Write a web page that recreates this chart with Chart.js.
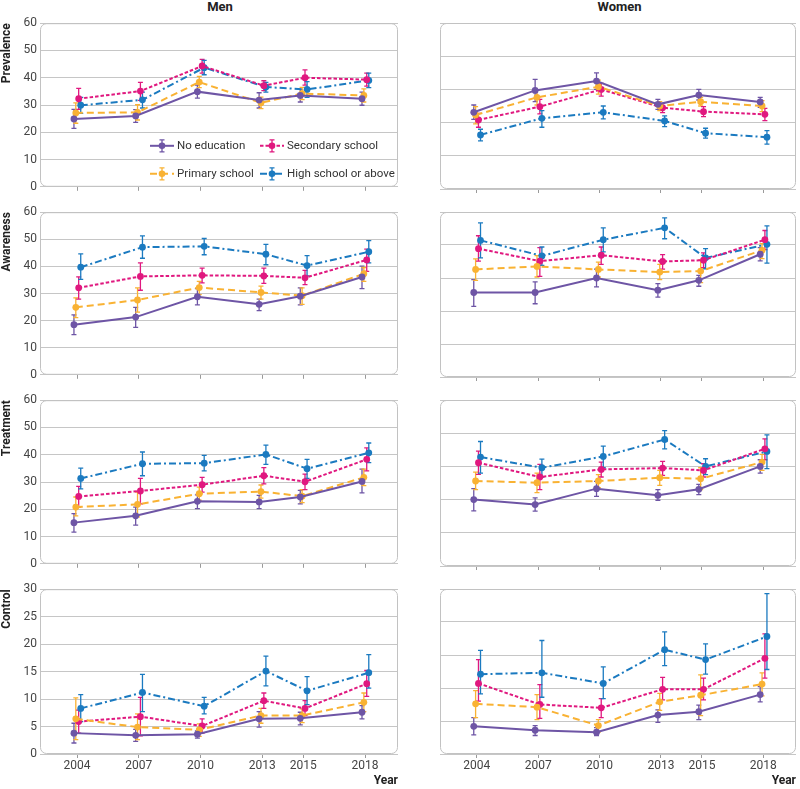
<!DOCTYPE html>
<html><head><meta charset="utf-8">
<script src="https://cdn.jsdelivr.net/npm/chart.js@4.4.0/dist/chart.umd.min.js"></script>
<style>
html,body{margin:0;padding:0;background:#fff;width:800px;height:789px;overflow:hidden;position:relative;font-family:Roboto,"Open Sans",sans-serif;}
canvas{position:absolute;}
.coltitle{position:absolute;top:0;font-weight:bold;font-size:13px;color:#222;text-align:center;line-height:14px;}
</style></head><body>
<div class="coltitle" style="left:40px;width:360px;">Men</div>
<div class="coltitle" style="left:440px;width:359px;">Women</div>
<script>
// ---------- data ----------
const years = [2004, 2007, 2010, 2013, 2015, 2018];
const seriesNames = ['No education', 'Primary school', 'Secondary school', 'High school or above'];
const yTicksMain = [0, 10, 20, 30, 40, 50, 60];
const yTicksControl = [0, 5, 10, 15, 20, 25, 30];
const rowTitles = ['Prevalence', 'Awareness', 'Treatment', 'Control'];
// series order in each array: No education, Primary, Secondary, High school or above
const menPrevalenceEst = [[24.9,26.0,34.9,31.8,33.5,32.3],[27.1,27.3,38.4,30.8,34.2,33.5],[32.3,35.1,44.3,37.1,40.0,39.3],[29.9,31.9,43.7,36.6,35.7,39.0]];
const menPrevalenceLo  = [[21.4,23.6,32.5,28.9,31.1,29.9],[23.3,24.5,36.4,28.7,32.0,31.1],[28.4,31.7,41.7,35.3,37.3,36.9],[26.9,28.9,41.1,34.7,32.8,36.4]];
const menPrevalenceHi  = [[28.4,28.3,37.3,34.5,35.7,34.7],[30.8,30.1,40.5,32.9,36.5,35.9],[36.1,38.3,46.7,38.9,42.9,41.7],[32.8,34.7,46.4,38.3,38.6,41.7]];
const menAwarenessEst = [[18.5,21.3,28.8,26.0,29.0,36.1],[24.9,27.6,32.2,30.4,29.2,37.3],[32.1,36.3,36.7,36.5,35.8,42.4],[39.7,47.1,47.4,44.5,40.3,45.4]];
const menAwarenessLo  = [[14.8,17.5,25.8,23.7,25.8,31.8],[21.1,23.1,29.6,27.9,26.0,34.5],[27.9,31.2,33.9,33.7,33.3,38.2],[35.2,43.0,44.3,40.6,36.5,41.3]];
const menAwarenessHi  = [[22.1,24.9,31.8,27.9,32.1,40.1],[28.4,32.1,34.5,32.7,32.1,39.6],[36.1,41.3,39.4,39.4,38.5,46.4],[44.6,51.3,50.3,48.1,44.0,49.5]];
const menTreatmentEst = [[15.1,17.6,22.9,22.7,24.5,30.2],[20.8,21.8,25.7,26.5,24.8,31.7],[24.7,26.7,29.0,32.3,30.1,38.3],[31.3,36.7,36.9,40.1,34.9,40.7]];
const menTreatmentLo  = [[11.6,14.2,20.2,20.2,22.0,26.0],[17.6,17.2,23.3,24.1,22.4,28.7],[20.8,22.0,26.3,29.3,27.2,34.1],[27.5,32.3,34.1,36.5,31.3,37.1]];
const menTreatmentHi  = [[18.4,20.8,25.3,25.1,26.9,34.7],[24.5,26.3,28.1,28.9,27.2,34.7],[28.4,31.3,31.7,35.3,32.9,42.5],[35.1,41.0,39.8,43.5,38.3,44.3]];
const menControlEst = [[3.8,3.4,3.6,6.4,6.5,7.6],[6.4,4.9,4.4,7.0,7.0,9.4],[5.9,6.8,5.1,9.7,8.3,12.8],[8.3,11.2,8.7,15.1,11.5,14.8]];
const menControlLo  = [[2.0,2.3,2.9,4.9,5.3,6.4],[2.6,2.6,3.2,5.6,5.7,7.7],[3.8,3.3,3.8,8.3,7.0,10.5],[5.9,7.7,7.3,12.4,9.0,12.0]];
const menControlHi  = [[5.6,4.5,4.2,7.7,7.6,8.8],[10.2,7.3,5.5,8.3,8.2,11.1],[8.0,10.3,6.4,11.1,9.7,15.2],[10.8,14.5,10.3,17.8,14.1,18.1]];
const womenPrevalenceEst = [[23.1,29.7,32.5,25.5,28.3,26.2],[22.3,27.6,30.8,25.0,26.3,25.0],[20.8,24.8,30.0,24.5,23.3,22.5],[16.3,21.3,23.1,20.5,16.8,15.6]];
const womenPrevalenceLo  = [[21.0,26.3,30.0,24.0,26.8,24.6],[19.6,25.3,28.6,23.6,25.0,23.3],[18.6,22.6,28.0,23.0,21.8,20.6],[14.5,18.6,21.1,18.8,15.3,13.5]];
const womenPrevalenceHi  = [[25.3,33.0,35.0,27.0,30.0,27.6],[24.8,29.8,32.8,26.3,27.6,26.6],[22.8,27.0,31.8,25.8,24.8,24.3],[18.0,23.6,25.0,22.0,18.3,17.6]];
const womenAwarenessEst = [[25.6,25.6,30.0,26.3,29.3,37.2],[32.6,33.5,32.6,31.8,32.1,38.4],[38.9,35.1,36.9,35.0,35.4,41.6],[41.4,36.7,41.6,45.2,36.1,40.2]];
const womenAwarenessLo  = [[21.4,22.2,27.3,24.2,27.5,35.2],[29.3,30.3,30.3,29.5,28.6,35.9],[35.1,30.5,34.1,32.7,33.1,38.6],[36.1,33.8,37.9,41.9,32.8,34.5]];
const womenAwarenessHi  = [[29.5,28.8,32.7,28.3,30.8,39.2],[35.8,36.8,34.8,34.1,35.5,40.4],[42.8,39.2,39.4,37.1,37.6,44.4],[46.7,39.4,45.2,48.2,38.9,45.8]];
const womenTreatmentEst = [[20.0,18.5,23.3,21.3,23.1,30.0],[25.6,25.1,25.6,26.6,26.3,31.3],[31.1,26.8,29.1,29.5,28.8,35.3],[32.8,29.6,33.0,38.1,30.0,34.5]];
const womenTreatmentLo  = [[16.6,16.5,21.0,19.8,21.5,28.0],[23.0,22.1,23.6,24.3,23.0,28.8],[27.6,23.0,26.8,27.3,26.8,32.0],[28.0,26.8,29.6,35.3,27.5,29.3]];
const womenTreatmentHi  = [[23.3,20.5,25.5,23.0,24.6,32.0],[28.3,28.0,27.5,28.8,29.6,33.6],[34.6,30.6,31.3,31.5,30.8,38.3],[37.5,32.2,36.1,40.8,32.3,39.5]];
const womenControlEst = [[4.2,3.6,3.3,5.9,6.4,9.0],[7.6,7.1,4.3,7.9,8.9,10.6],[10.7,7.5,7.0,9.8,9.8,14.5],[12.1,12.3,10.7,15.8,14.3,17.8]];
const womenControlLo  = [[2.9,2.8,2.8,4.8,5.2,7.9],[5.5,5.2,3.3,6.6,5.8,8.8],[8.0,5.4,5.5,8.2,8.2,11.5],[9.1,8.6,8.4,13.4,12.1,12.8]];
const womenControlHi  = [[5.5,4.3,4.0,6.7,7.4,10.2],[9.6,9.0,5.2,9.2,12.0,12.3],[14.3,10.5,8.4,11.6,11.5,18.2],[15.7,17.2,13.2,18.5,16.7,24.3]];

// ---------- style ----------
const colors = ['#6e55a5', '#f9b233', '#e0187f', '#1b7ac0'];
const dashes = [[], [7, 4], [3.5, 2], [7, 3, 2, 3]];
const dodge = [-0.15, -0.06, 0.08, 0.18]; // small horizontal offsets (years)
const gridColor = '#c6c6c6';
const FONT = 'Roboto, "Open Sans", sans-serif';
Chart.defaults.font.family = FONT;

const rowTop = [23, 212, 400, 589];
const rowBottom = [189, 377, 566, 754];

const panels = [
  {col:0,row:0,est:menPrevalenceEst,lo:menPrevalenceLo,hi:menPrevalenceHi,yt:yTicksMain,legend:true},
  {col:1,row:0,est:womenPrevalenceEst,lo:womenPrevalenceLo,hi:womenPrevalenceHi,yt:yTicksMain.slice(0,6)},
  {col:0,row:1,est:menAwarenessEst,lo:menAwarenessLo,hi:menAwarenessHi,yt:yTicksMain},
  {col:1,row:1,est:womenAwarenessEst,lo:womenAwarenessLo,hi:womenAwarenessHi,yt:yTicksMain.slice(0,6)},
  {col:0,row:2,est:menTreatmentEst,lo:menTreatmentLo,hi:menTreatmentHi,yt:yTicksMain},
  {col:1,row:2,est:womenTreatmentEst,lo:womenTreatmentLo,hi:womenTreatmentHi,yt:yTicksMain.slice(0,6)},
  {col:0,row:3,est:menControlEst,lo:menControlLo,hi:menControlHi,yt:yTicksControl},
  {col:1,row:3,est:womenControlEst,lo:womenControlLo,hi:womenControlHi,yt:yTicksControl.slice(0,6)}
];

function roundRect(ctx, x, y, w, h, r) {
  ctx.beginPath();
  ctx.moveTo(x + r, y);
  ctx.lineTo(x + w - r, y); ctx.arcTo(x + w, y, x + w, y + r, r);
  ctx.lineTo(x + w, y + h - r); ctx.arcTo(x + w, y + h, x + w - r, y + h, r);
  ctx.lineTo(x + r, y + h); ctx.arcTo(x, y + h, x, y + h - r, r);
  ctx.lineTo(x, y + r); ctx.arcTo(x, y, x + r, y, r);
  ctx.closePath();
}

function drawLegendItem(ctx, x0, yc, s) {
  ctx.save();
  ctx.strokeStyle = colors[s]; ctx.lineWidth = 2; ctx.setLineDash(dashes[s]);
  ctx.beginPath(); ctx.moveTo(x0, yc); ctx.lineTo(x0 + 24, yc); ctx.stroke();
  ctx.setLineDash([]); ctx.lineWidth = 1.3;
  const xm = x0 + 12;
  ctx.beginPath();
  ctx.moveTo(xm, yc - 6); ctx.lineTo(xm, yc + 6);
  ctx.moveTo(xm - 2.5, yc - 6); ctx.lineTo(xm + 2.5, yc - 6);
  ctx.moveTo(xm - 2.5, yc + 6); ctx.lineTo(xm + 2.5, yc + 6);
  ctx.stroke();
  ctx.fillStyle = colors[s]; ctx.beginPath(); ctx.arc(xm, yc, 3.3, 0, Math.PI * 2); ctx.fill();
  ctx.fillStyle = '#333'; ctx.font = '11.5px ' + FONT; ctx.textBaseline = 'middle'; ctx.textAlign = 'left';
  ctx.fillText(seriesNames[s], x0 + 27, yc);
  ctx.restore();
}

panels.forEach(p => {
  const men = p.col === 0;
  const last = p.row === 3;
  const hx = last ? 34 : 8;
  const pt = 10;
  const T = rowTop[p.row] - pt;
  const H = rowBottom[p.row] + hx - T;
  const L = men ? 0 : 400;
  const W = men ? 402 : 400;
  const pr = men ? 2 : 1;
  const cv = document.createElement('canvas');
  cv.width = W; cv.height = H;
  cv.style.left = L + 'px'; cv.style.top = T + 'px';
  cv.style.width = W + 'px'; cv.style.height = H + 'px';
  document.body.appendChild(cv);

  const datasets = p.est.map((vals, s) => ({
    label: seriesNames[s],
    data: vals.map((v, i) => ({x: years[i] + dodge[s], y: v})),
    borderColor: colors[s], backgroundColor: colors[s],
    borderWidth: 2, borderDash: dashes[s],
    pointRadius: 3.4, pointBorderWidth: 0, pointBackgroundColor: colors[s],
    tension: 0, clip: false
  }));

  const panelPlugin = {
    id: 'panelDecor' ,
    beforeDatasetsDraw(chart) {
      const {ctx, chartArea: a, scales: {x, y}} = chart;
      ctx.save();
      ctx.strokeStyle = '#c2c2c2'; ctx.lineWidth = 1;
      roundRect(ctx, a.left + 0.5, a.top + 0.5, a.right - a.left - 1, a.bottom - a.top - 1, 6);
      ctx.stroke();
      // error bars
      ctx.lineWidth = 1.3;
      p.lo.forEach((row, s) => {
        ctx.strokeStyle = colors[s];
        row.forEach((lo, i) => {
          const px = x.getPixelForValue(years[i] + dodge[s]);
          const y1 = y.getPixelForValue(lo);
          const y2 = y.getPixelForValue(p.hi[s][i]);
          ctx.beginPath();
          ctx.moveTo(px, y1); ctx.lineTo(px, y2);
          ctx.moveTo(px - 2.5, y1); ctx.lineTo(px + 2.5, y1);
          ctx.moveTo(px - 2.5, y2); ctx.lineTo(px + 2.5, y2);
          ctx.stroke();
        });
      });
      ctx.restore();
    },
    afterDatasetsDraw(chart) {
      if (!p.legend) return;
      const {ctx, chartArea: a} = chart;
      drawLegendItem(ctx, a.left + 110, a.bottom - 41, 0);
      drawLegendItem(ctx, a.left + 220, a.bottom - 41, 2);
      drawLegendItem(ctx, a.left + 110, a.bottom - 13, 1);
      drawLegendItem(ctx, a.left + 220, a.bottom - 13, 3);
    }
  };

  new Chart(cv, {
    type: 'line',
    data: {datasets},
    plugins: [panelPlugin],
    options: {
      responsive: false, animation: false, devicePixelRatio: 1,
      layout: {padding: {top: pt, right: pr, bottom: 0, left: 0}},
      plugins: {legend: {display: false}, tooltip: {enabled: false}, title: {display: false}},
      scales: {
        x: {
          type: 'linear', min: 2002.2, max: 2019.6,
          afterBuildTicks: s => { s.ticks = years.map(v => ({value: v})); },
          afterFit: s => { s.height = hx; },
          grid: {display: true, drawOnChartArea: false, drawTicks: true, tickLength: 4, color: '#9a9a9a'},
          border: {display: false},
          ticks: {display: last, padding: 1, color: '#444', font: {size: 12}, callback: v => String(v)},
          title: {display: last, text: 'Year', align: 'end', color: '#222', font: {size: 12, weight: 'bold'}, padding: {top: 0, bottom: 0}}
        },
        y: {
          min: 0, max: p.yt[p.yt.length - 1],
          afterBuildTicks: s => { s.ticks = p.yt.map(v => ({value: v})); },
          afterFit: s => { s.width = 40; },
          grid: {color: gridColor, drawTicks: false, lineWidth: 1},
          border: {display: false},
          ticks: {display: men, padding: 3, color: '#444', font: {size: 12}},
          title: {display: men, text: rowTitles[p.row], align: 'end', color: '#222', font: {size: 12, weight: 'bold'}, padding: {top: 0, bottom: 0}}
        }
      }
    }
  });
});
</script>
</body></html>
